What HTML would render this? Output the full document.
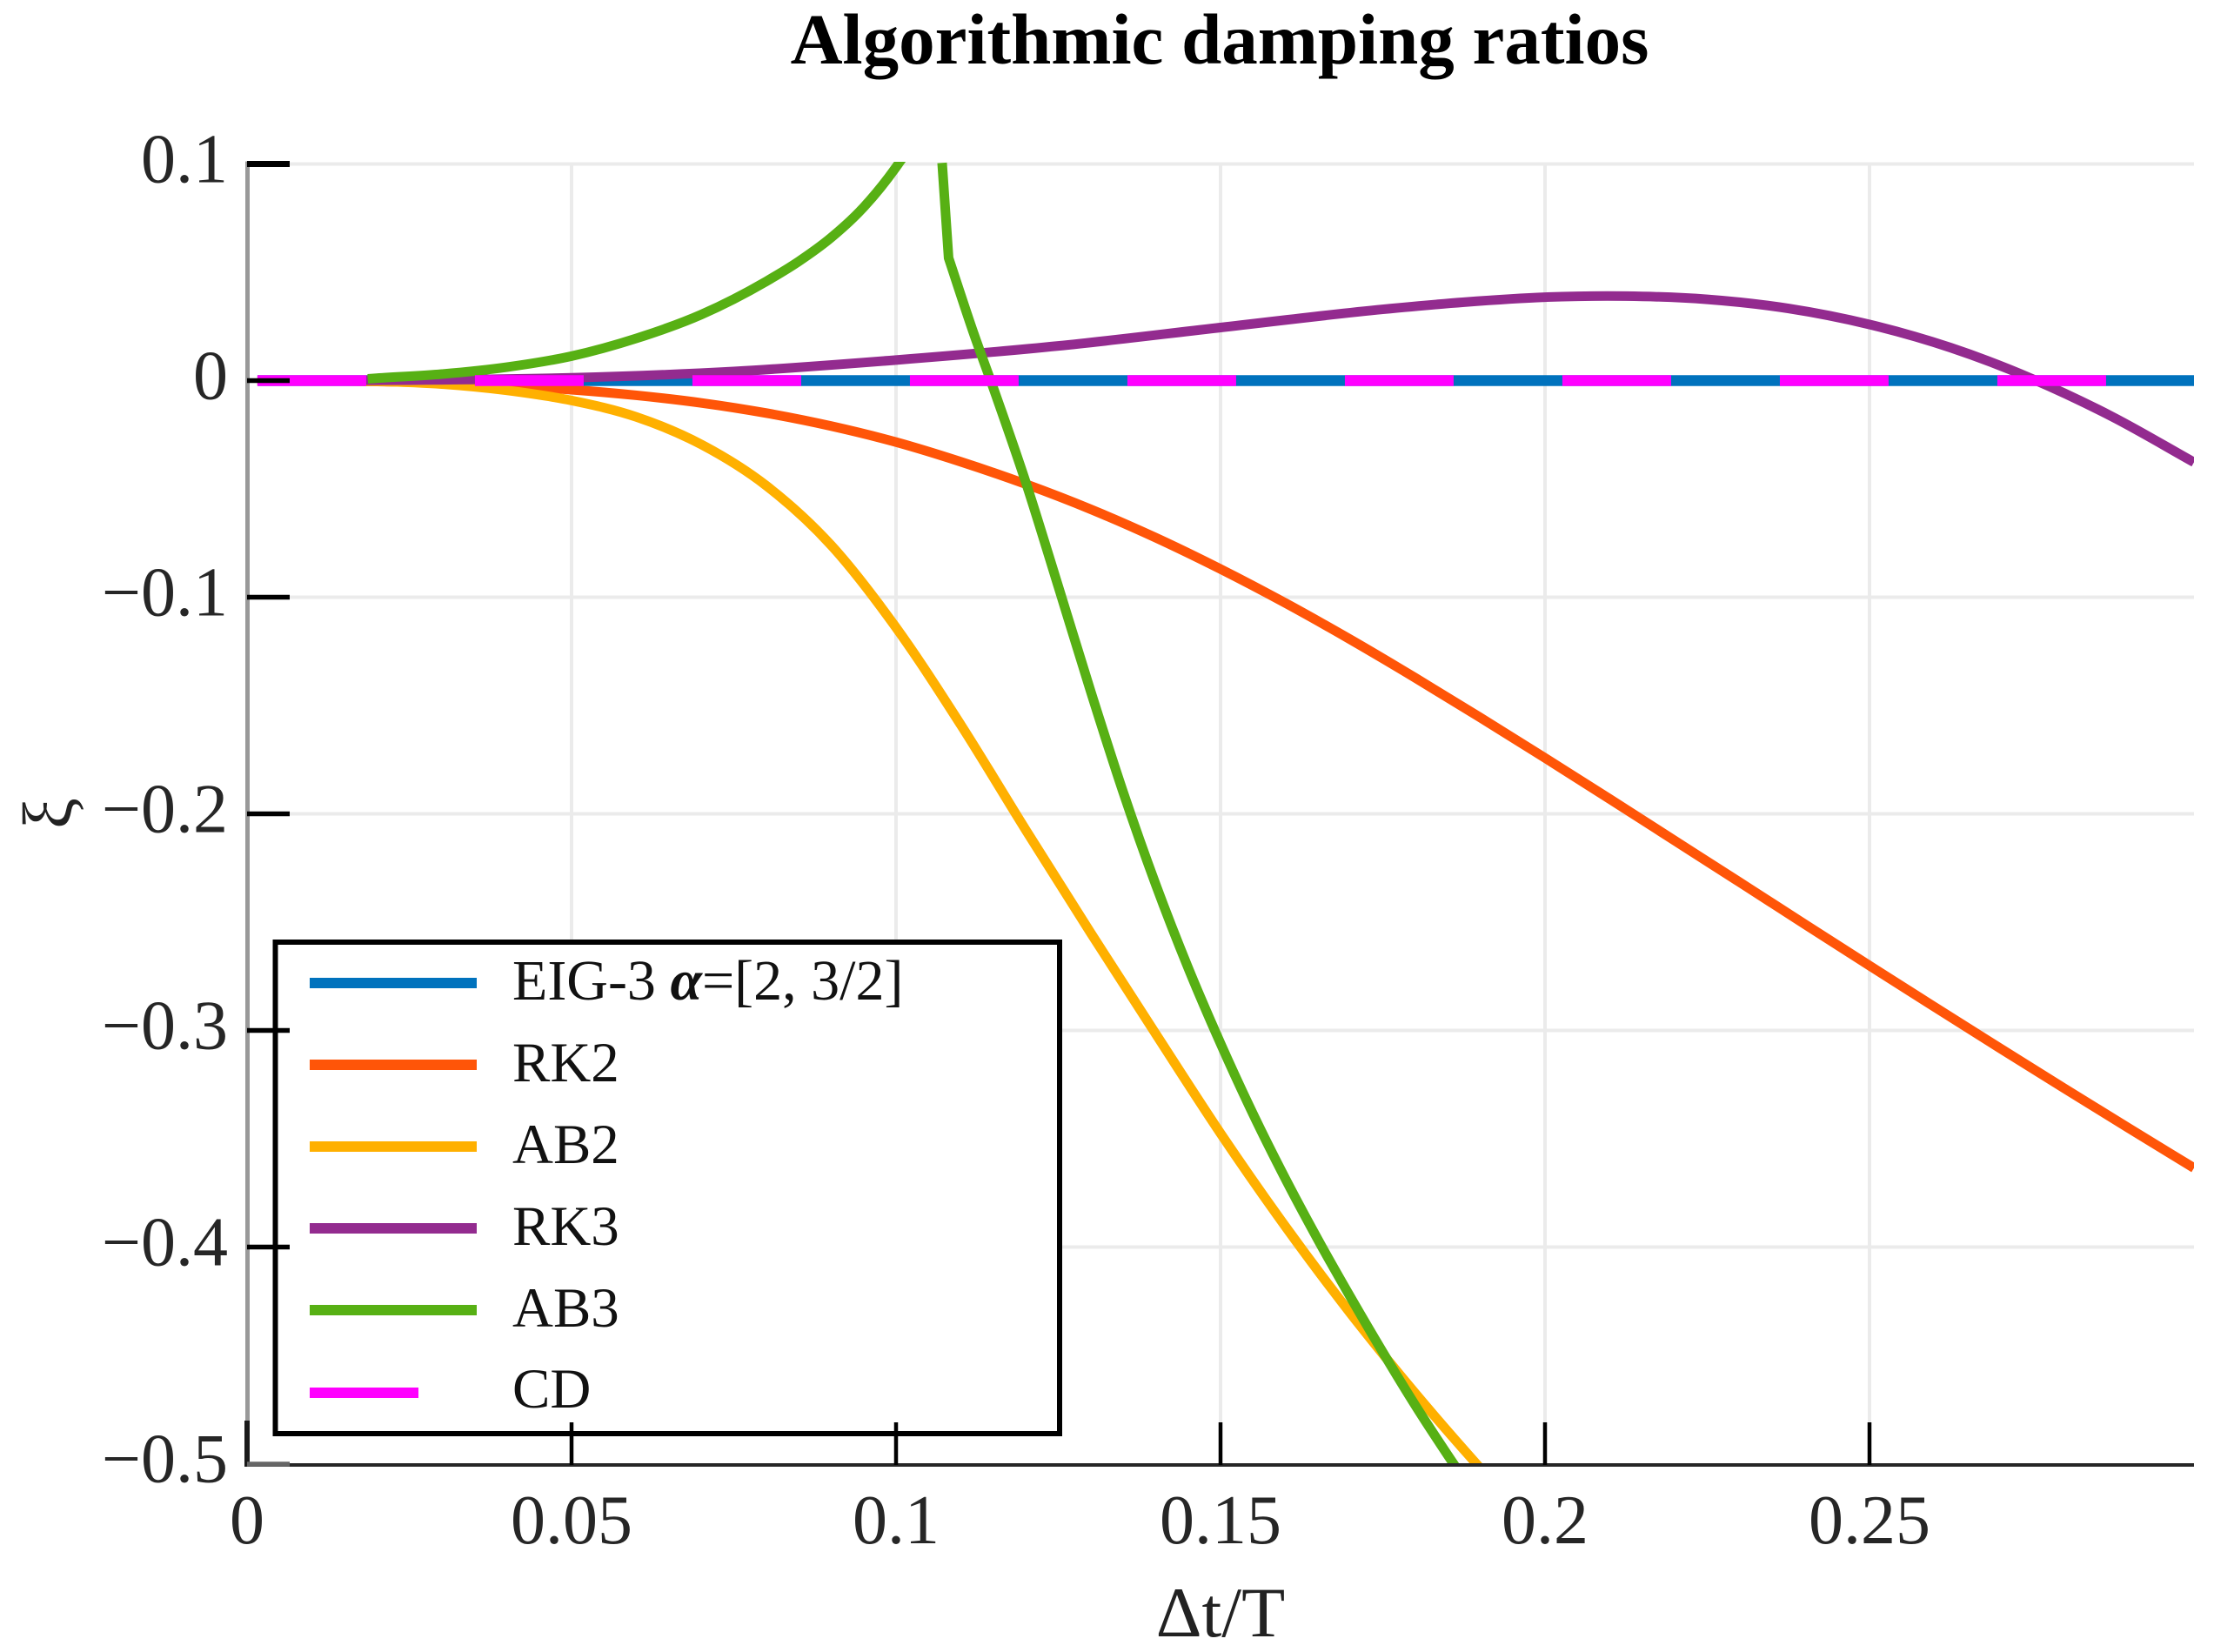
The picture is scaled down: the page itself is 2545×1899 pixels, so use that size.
<!DOCTYPE html>
<html lang="en">
<head>
<meta charset="utf-8">
<title>Algorithmic damping ratios</title>
<style>
html,body{margin:0;padding:0;background:#fff;}
svg{display:block;font-family:"Liberation Serif","DejaVu Serif",serif;}
</style>
</head>
<body>
<svg id="chart" xmlns="http://www.w3.org/2000/svg" width="2545" height="1899" viewBox="0 0 2545 1899">
  <rect x="0" y="0" width="2545" height="1899" fill="#fff"/>
  <defs>
    <clipPath id="plot-clip"><rect x="282" y="186" width="2240" height="1500"/></clipPath>
  </defs>
  <text x="1402" y="73" font-size="83" font-weight="bold" text-anchor="middle" fill="#000">Algorithmic damping ratios</text>
  <g id="grid"></g>
  <g id="curves" clip-path="url(#plot-clip)"></g>
  <g>
    <rect x="316.5" y="1083" width="901.5" height="565" fill="#fff" stroke="#000" stroke-width="6"/>
    <g>
      <line x1="356" x2="548" y1="1130" y2="1130" stroke="#0072BD" stroke-width="12"/>
      <text x="589" y="1149" font-size="66" fill="#111">EIG-3 <tspan font-weight="bold" font-style="italic">α</tspan>=[2, 3/2]</text>
    </g>
    <g>
      <line x1="356" x2="548" y1="1224" y2="1224" stroke="#FF5508" stroke-width="12"/>
      <text x="589" y="1243" font-size="65" fill="#111">RK2</text>
    </g>
    <g>
      <line x1="356" x2="548" y1="1318" y2="1318" stroke="#FFB000" stroke-width="12"/>
      <text x="589" y="1337" font-size="65" fill="#111">AB2</text>
    </g>
    <g>
      <line x1="356" x2="548" y1="1412" y2="1412" stroke="#932B8F" stroke-width="12"/>
      <text x="589" y="1431" font-size="65" fill="#111">RK3</text>
    </g>
    <g>
      <line x1="356" x2="548" y1="1506" y2="1506" stroke="#57B014" stroke-width="12"/>
      <text x="589" y="1525" font-size="65" fill="#111">AB3</text>
    </g>
    <g>
      <line x1="356" x2="481" y1="1601" y2="1601" stroke="#FF00FF" stroke-width="12"/>
      <text x="589" y="1618" font-size="65" fill="#111">CD</text>
    </g>
  </g>
  <g id="axes"></g>
  <text x="1403" y="1881" font-size="82" text-anchor="middle" fill="#222">Δt/T</text>
  <text x="0" y="0" font-size="80" text-anchor="middle" fill="#222" transform="translate(82 935) rotate(-90)">ξ</text>
</svg>
<script>
// Tick values and printed labels
const xTicks = [0, 0.05, 0.1, 0.15, 0.2, 0.25];
const xTickLabels = ['0', '0.05', '0.1', '0.15', '0.2', '0.25'];
const yTicks = [0.1, 0, -0.1, -0.2, -0.3, -0.4, -0.5];
const yTickLabels = ['0.1', '0', '\u22120.1', '\u22120.2', '\u22120.3', '\u22120.4', '\u22120.5'];

// EIG-3 and CD (both flat at zero)
const eigX = [0.0016, 0.3];
const eigY = [0, 0];
const cdX = [0.0016, 0.3];
const cdY = [0, 0];

// RK2
const rk2X = [0.0016, 0.02, 0.03, 0.04, 0.05, 0.06, 0.07, 0.08, 0.09, 0.1, 0.11, 0.12, 0.13, 0.14, 0.15, 0.16, 0.17, 0.18, 0.19, 0.2, 0.21, 0.22, 0.23, 0.24, 0.25, 0.26, 0.27, 0.28, 0.29, 0.3];
const rk2Y = [0, -0.0004, -0.0011, -0.0024, -0.0042, -0.0068, -0.0103, -0.015, -0.021, -0.0284, -0.0375, -0.0478, -0.0594, -0.0725, -0.087, -0.1027, -0.1195, -0.1372, -0.1555, -0.1742, -0.1932, -0.2124, -0.2316, -0.2509, -0.2701, -0.2891, -0.308, -0.3267, -0.3452, -0.3635];

// AB2
const ab2X = [0.0016, 0.02, 0.03, 0.04, 0.05, 0.06, 0.07, 0.08, 0.09, 0.1, 0.11, 0.12, 0.13, 0.14, 0.15, 0.16, 0.17, 0.18, 0.19, 0.195];
const ab2Y = [0, -0.0003, -0.0016, -0.0045, -0.0092, -0.0168, -0.0295, -0.0485, -0.076, -0.114, -0.159, -0.2075, -0.255, -0.3015, -0.3475, -0.3905, -0.4305, -0.4675, -0.502, -0.5185];

// RK3
const rk3X = [0.0016, 0.025, 0.05, 0.075, 0.1, 0.125, 0.15, 0.175, 0.1875, 0.2, 0.2125, 0.225, 0.2375, 0.25, 0.2625, 0.275, 0.2875, 0.3];
const rk3Y = [0, 0.0002, 0.0013, 0.0042, 0.0095, 0.016, 0.0245, 0.0329, 0.0362, 0.0385, 0.039, 0.0375, 0.0333, 0.0259, 0.0152, 0.0009, -0.0168, -0.0377];

// AB3: rising branch, steep connecting segment, falling branch
const ab3RiseX = [0.0186, 0.02, 0.03, 0.04, 0.05, 0.06, 0.07, 0.08, 0.085, 0.09, 0.095, 0.1, 0.101];
const ab3RiseY = [0.0008, 0.0011, 0.003, 0.0062, 0.0113, 0.0195, 0.0305, 0.0458, 0.055, 0.066, 0.08, 0.0985, 0.1028];
const ab3JumpX = [0.1071, 0.1081];
const ab3JumpY = [0.1005, 0.0566];
const ab3FallX = [0.1081, 0.112, 0.115, 0.12, 0.125, 0.13, 0.135, 0.14, 0.145, 0.15, 0.155, 0.16, 0.165, 0.17, 0.175, 0.18, 0.185, 0.19];
const ab3FallY = [0.0566, 0.0215, -0.0035, -0.047, -0.095, -0.1435, -0.19, -0.2325, -0.271, -0.306, -0.3385, -0.3685, -0.3965, -0.423, -0.4485, -0.473, -0.496, -0.518];

const SVGNS = 'http://www.w3.org/2000/svg';
const xAxis = v => 284 + 7460 * v;
const yAxis = v => 437.5 - 2490 * v;

function mk(parent, tag, attrs) {
  const el = document.createElementNS(SVGNS, tag);
  for (const k in attrs) el.setAttribute(k, attrs[k]);
  parent.appendChild(el);
  return el;
}

// Smooth monotone-in-x path through the data points, via the axis functions
function curvePath(xs, ys, joined) {
  const px = xs.map(xAxis), py = ys.map(yAxis);
  const n = px.length;
  const slope = [];
  for (let i = 0; i < n; i++) {
    if (i === 0) slope.push((py[1] - py[0]) / (px[1] - px[0]));
    else if (i === n - 1) slope.push((py[i] - py[i - 1]) / (px[i] - px[i - 1]));
    else {
      const h0 = px[i] - px[i - 1], h1 = px[i + 1] - px[i];
      const s0 = (py[i] - py[i - 1]) / h0, s1 = (py[i + 1] - py[i]) / h1;
      slope.push((s0 * h1 + s1 * h0) / (h0 + h1));
    }
  }
  let d = (joined ? 'L' : 'M') + px[0].toFixed(2) + ' ' + py[0].toFixed(2);
  for (let i = 0; i < n - 1; i++) {
    const h = (px[i + 1] - px[i]) / 3;
    d += ' C' + (px[i] + h).toFixed(2) + ' ' + (py[i] + slope[i] * h).toFixed(2) + ' ' +
      (px[i + 1] - h).toFixed(2) + ' ' + (py[i + 1] - slope[i + 1] * h).toFixed(2) + ' ' +
      px[i + 1].toFixed(2) + ' ' + py[i + 1].toFixed(2);
  }
  return d;
}

const gridG = document.getElementById('grid');
const curvesG = document.getElementById('curves');
const axesG = document.getElementById('axes');

// Grid
xTicks.forEach((t, i) => {
  if (i === 0) return;
  const line = mk(gridG, 'line', { x1: xAxis(t), x2: xAxis(t), y1: yAxis(0.1), y2: yAxis(-0.5), stroke: '#ebebeb', 'stroke-width': 4 });
  
  
});
yTicks.forEach((t, i) => {
  if (i === yTicks.length - 1) return;
  const line = mk(gridG, 'line', { x1: xAxis(0), x2: xAxis(0.3), y1: yAxis(t), y2: yAxis(t), stroke: '#ebebeb', 'stroke-width': 4 });
  
  
});

// Curves
const eigPath = mk(curvesG, 'path', { d: curvePath(eigX, eigY), fill: 'none', stroke: '#0072BD', 'stroke-width': 12.5 });



const rk2Path = mk(curvesG, 'path', { d: curvePath(rk2X, rk2Y), fill: 'none', stroke: '#FF5508', 'stroke-width': 11 });



const ab2Path = mk(curvesG, 'path', { d: curvePath(ab2X, ab2Y), fill: 'none', stroke: '#FFB000', 'stroke-width': 11 });



const rk3Path = mk(curvesG, 'path', { d: curvePath(rk3X, rk3Y), fill: 'none', stroke: '#932B8F', 'stroke-width': 11 });



const ab3RisePath = mk(curvesG, 'path', { d: curvePath(ab3RiseX, ab3RiseY), fill: 'none', stroke: '#57B014', 'stroke-width': 11 });



const ab3FallD = curvePath(ab3JumpX, ab3JumpY) + ' ' + curvePath(ab3FallX, ab3FallY, true);
const ab3FallPath = mk(curvesG, 'path', { d: ab3FallD, fill: 'none', stroke: '#57B014', 'stroke-width': 11, 'stroke-linejoin': 'round' });



const cdPath = mk(curvesG, 'path', { d: curvePath(cdX, cdY), fill: 'none', stroke: '#FF00FF', 'stroke-width': 12.5, 'stroke-dasharray': '125 125' });



// Axis lines
const leftAxis = mk(axesG, 'line', { x1: 284.5, x2: 284.5, y1: yAxis(0.1) - 3, y2: 1633, stroke: '#999', 'stroke-width': 5 });



const leftAxisEnd = mk(axesG, 'line', { x1: 284, x2: 284, y1: 1633, y2: 1686, stroke: '#1a1a1a', 'stroke-width': 6 });



const bottomAxis = mk(axesG, 'line', { x1: 284, x2: xAxis(0.3), y1: 1684, y2: 1684, stroke: '#262626', 'stroke-width': 4 });



// X ticks and labels
xTicks.forEach((t, i) => {
  if (i > 0) {
    const tick = mk(axesG, 'line', { x1: xAxis(t), x2: xAxis(t), y1: 1635, y2: 1684, stroke: '#000', 'stroke-width': 4.5 });
    
    
  }
  const label = mk(axesG, 'text', { x: xAxis(t), y: 1774, 'font-size': 80, 'text-anchor': 'middle', fill: '#262626' });
  label.textContent = xTickLabels[i];
  
  
});

// Y ticks and labels
yTicks.forEach((t, i) => {
  const last = i === yTicks.length - 1;
  const tick = mk(axesG, 'line', { x1: 284, x2: 333, y1: last ? 1683 : yAxis(t), y2: last ? 1683 : yAxis(t), stroke: last ? '#666' : '#000', 'stroke-width': i === 0 ? 7 : 5.5 });
  
  
  const label = mk(axesG, 'text', { x: 262, y: yAxis(t) + 21, 'font-size': 80, 'text-anchor': 'end', fill: '#262626' });
  label.textContent = yTickLabels[i];
  
  
});
</script>
</body>
</html>
